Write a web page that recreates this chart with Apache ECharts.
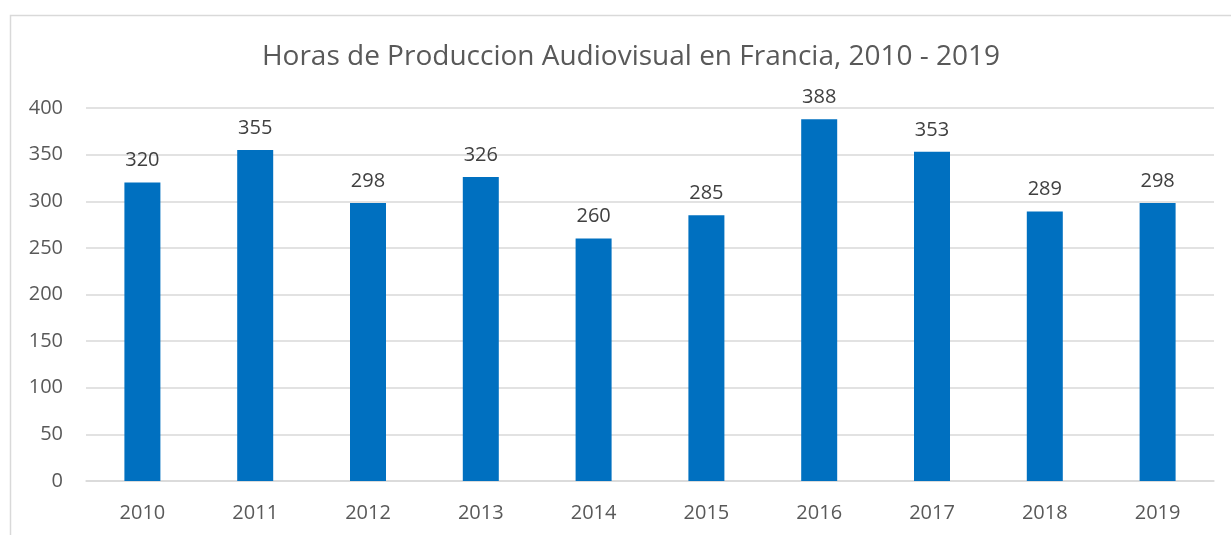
<!DOCTYPE html>
<html>
<head>
<meta charset="utf-8">
<script src="https://cdn.jsdelivr.net/npm/echarts@6/dist/echarts.min.js"></script>
<style>
  html, body { margin: 0; padding: 0; background: #fff; }
  #chart { width: 1231px; height: 535px; }
</style>
</head>
<body>
<div id="chart"></div>
<script>
// data
const years = ["2010", "2011", "2012", "2013", "2014", "2015", "2016", "2017", "2018", "2019"];
const hours = [320, 355, 298, 326, 260, 285, 388, 353, 289, 298];
const chartTitle = "Horas de Produccion Audiovisual en Francia, 2010 - 2019";

const textColor = "#595959";
const gridColor = "#d9d9d9";
const barColor = "#0070c0";
const font = "'Open Sans', sans-serif";

const chart = echarts.init(document.getElementById("chart"));

chart.setOption({
  animation: false,
  backgroundColor: "#fff",
  graphic: [
    {
      type: "rect",
      shape: { x: 10.5, y: 15.5, width: 1400, height: 700 },
      style: { fill: "none", stroke: gridColor, lineWidth: 1.5 },
      silent: true
    }
  ],
  title: {
    text: chartTitle,
    left: 626,
    top: 38,
    textAlign: "center",
    textStyle: {
      color: textColor,
      fontFamily: font,
      fontWeight: "normal",
      fontSize: 28
    }
  },
  grid: {
    left: 86,
    right: 17,
    top: 108,
    bottom: 54,
    containLabel: false
  },
  xAxis: {
    type: "category",
    data: years,
    axisTick: { show: false },
    axisLine: { lineStyle: { color: gridColor, width: 1.5 } },
    axisLabel: {
      color: textColor,
      fontFamily: font,
      fontSize: 20,
      margin: 22
    }
  },
  yAxis: {
    type: "value",
    min: 0,
    max: 400,
    interval: 50,
    axisLine: { show: false },
    axisTick: { show: false },
    axisLabel: {
      color: textColor,
      fontFamily: font,
      fontSize: 20,
      margin: 23
    },
    splitLine: { lineStyle: { color: gridColor, width: 1.5 } }
  },
  series: [
    {
      type: "bar",
      data: hours,
      barWidth: 36,
      itemStyle: { color: barColor },
      label: {
        show: true,
        position: "top",
        distance: 12,
        color: "#404040",
        fontFamily: font,
        fontSize: 20
      }
    }
  ]
});
</script>
</body>
</html>
